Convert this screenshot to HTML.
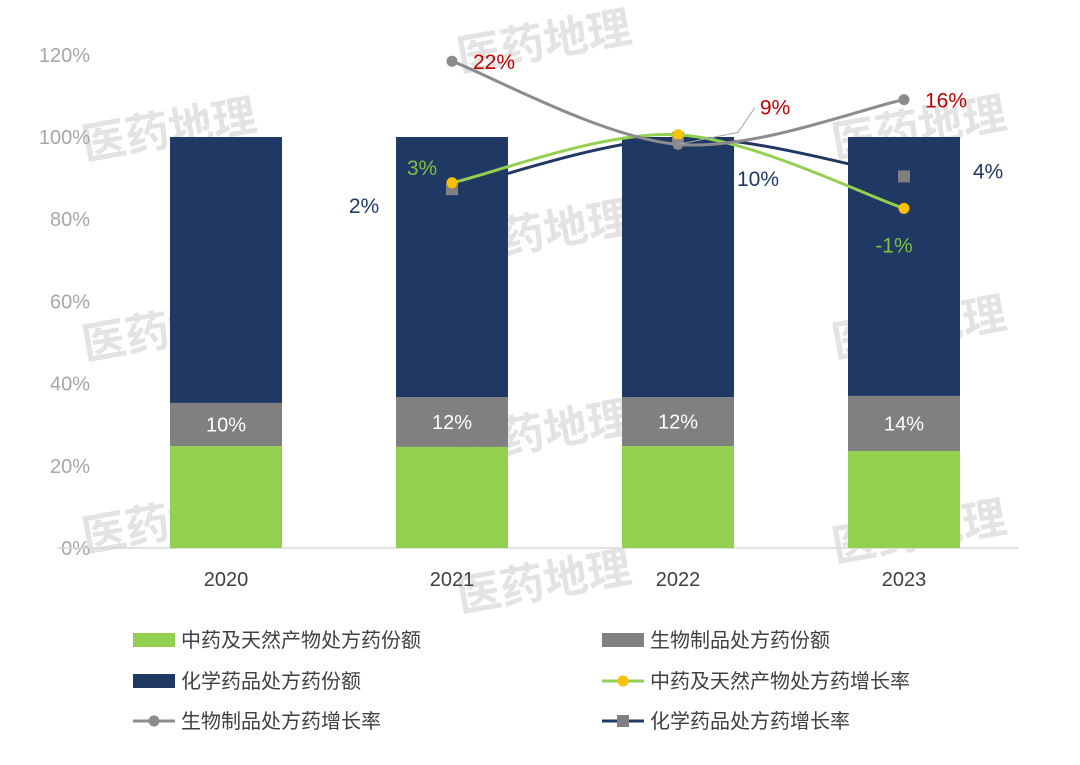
<!DOCTYPE html>
<html><head><meta charset="utf-8"><style>
body{margin:0;background:#fff;}
svg{display:block;font-family:"Liberation Sans","Noto Sans CJK SC",sans-serif;}
</style></head><body>
<svg id="chart" width="1080" height="765" viewBox="0 0 1080 765" xmlns="http://www.w3.org/2000/svg">
<g id="wm"></g>
<g id="grid"></g>
<g id="bars"></g>
<g id="lines"></g>
<g id="glabels"></g>
<g id="legend"></g>
</svg>
<script>
var categories=["2020","2021","2022","2023"];
var tcmShare=[24.8,24.6,24.8,23.6];
var bioShare=[10.5,12.1,11.9,13.4];
var bioLabels=["10%","12%","12%","14%"];
var yTicks=[0,20,40,60,80,100,120];
var tcmGrowth=[null,3,10.5,-1];
var tcmGrowthLabels=["","3%","","-1%"];
var bioGrowth=[null,22,9,16];
var bioGrowthLabels=["","22%","9%","16%"];
var chemGrowth=[null,2,10,4];
var chemGrowthLabels=["","2%","10%","4%"];

var NS="http://www.w3.org/2000/svg";
function mk(p,t,a){var e=document.createElementNS(NS,t);for(var k in a)e.setAttribute(k,a[k]);p.appendChild(e);return e;}
function yS(v){return 548-v*4.11;}
function y2(v){return 202-v*6.4;}
function xS(i){return 226+i*226;}
var BW=112;
var G={green:"#92D050",gray:"#808080",navy:"#203864",yellow:"#FFC000",lgray:"#8C8C8C",red:"#C00000"};

try{
var wm=document.getElementById('wm');
var wmp=[[85,160],[460,72],[460,262],[85,360],[835,158],[835,358],[460,462],[85,552],[835,562],[460,612]];
for(var w=0;w<wmp.length;w++){
 var px=wmp[w][0],py=wmp[w][1];
 var wt=mk(wm,'text',{x:px,y:py,'font-size':44,'font-weight':'bold',fill:'#e3e3e3',transform:'rotate(-10 '+px+' '+py+')'});
 
 
 wt.textContent="医药地理";
}
}catch(e){}

try{
var grid=document.getElementById('grid');
for(var k=0;k<yTicks.length;k++){
 var tt=mk(grid,'text',{x:90,y:yS(yTicks[k])+7,'text-anchor':'end','font-size':20,fill:'#A6A6A6'});
 
 
 tt.textContent=yTicks[k]+"%";
}
var ax=mk(grid,'line',{x1:57,x2:1018,y1:548,y2:548,stroke:'#D9D9D9','stroke-width':1.5});


}catch(e){}

try{
var bars=document.getElementById('bars');
for(var i=0;i<categories.length;i++){
 var x0=xS(i)-BW/2;
 var gv=tcmShare[i], bv=bioShare[i];
 var r1=mk(bars,'rect',{x:x0,y:yS(gv),width:BW,height:yS(0)-yS(gv),fill:G.green});
 
 
 var r2=mk(bars,'rect',{x:x0,y:yS(gv+bv),width:BW,height:yS(gv)-yS(gv+bv),fill:G.gray});
 
 
 var r3=mk(bars,'rect',{x:x0,y:yS(100),width:BW,height:yS(gv+bv)-yS(100),fill:G.navy});
 
 
 var bt=mk(bars,'text',{x:xS(i),y:(yS(gv)+yS(gv+bv))/2+7,'text-anchor':'middle','font-size':20,fill:'#fff'});
 
 
 bt.textContent=bioLabels[i];
 var xl=mk(bars,'text',{x:xS(i),y:586,'text-anchor':'middle','font-size':20,fill:'#404040'});
 
 
 xl.textContent=categories[i];
}
}catch(e){}

function smooth(pts){
 var d='M'+pts[0][0]+','+pts[0][1];
 for(var i=0;i<pts.length-1;i++){
  var p0=pts[i-1]||pts[i],p1=pts[i],p2=pts[i+1],p3=pts[i+2]||p2;
  var c1x=p1[0]+(p2[0]-p0[0])/6,c1y=p1[1]+(p2[1]-p0[1])/6;
  var c2x=p2[0]-(p3[0]-p1[0])/6,c2y=p2[1]-(p3[1]-p1[1])/6;
  d+=' C'+c1x+','+c1y+' '+c2x+','+c2y+' '+p2[0]+','+p2[1];
 }
 return d;
}
var linesG=document.getElementById('lines');
var labelsG=document.getElementById('glabels');
function series(vals,color,marker,mcolor,sname){
 var pts=[];
 for(var i=0;i<vals.length;i++){if(vals[i]!==null)pts.push([xS(i),y2(vals[i]),i]);}
 var pth=mk(linesG,'path',{d:smooth(pts),fill:'none',stroke:color,'stroke-width':3});
 
 
 for(var j=0;j<pts.length;j++){
  var q=pts[j];
  var mm;
  if(marker==='circle'){mm=mk(linesG,'circle',{cx:q[0],cy:q[1],r:5.5,fill:mcolor});}
  else{mm=mk(linesG,'rect',{x:q[0]-6,y:q[1]-6,width:12,height:12,fill:mcolor});}
  
  
 }
}
try{series(chemGrowth,G.navy,'square',G.gray,'chem-growth');}catch(e){}
try{series(tcmGrowth,G.green,'circle',G.yellow,'tcm-growth');}catch(e){}
try{series(bioGrowth,G.lgray,'circle',G.lgray,'bio-growth');}catch(e){}

function addLabel(vals,labs,idx,dx,dy,col,nm){
 var v=vals[idx];
 var s=labs[idx];
 var t=document.createElementNS(NS,'text');
 t.setAttribute('x',String(xS(idx)+dx));
 t.setAttribute('y',String(y2(v)+dy));
 t.setAttribute('text-anchor','middle');
 t.setAttribute('font-size','21');
 t.setAttribute('fill',col);
 
 
 t.textContent=s;
 labelsG.appendChild(t);
}
try{addLabel(chemGrowth,chemGrowthLabels,1,-88,24,G.navy,'chem-growth-label');}catch(e){}
try{addLabel(chemGrowth,chemGrowthLabels,2,80,48,G.navy,'chem-growth-label');}catch(e){}
try{addLabel(chemGrowth,chemGrowthLabels,3,84,2,G.navy,'chem-growth-label');}catch(e){}
try{addLabel(tcmGrowth,tcmGrowthLabels,1,-30,-8,'#7DC142','tcm-growth-label');}catch(e){}
try{addLabel(tcmGrowth,tcmGrowthLabels,3,-10,44,'#7DC142','tcm-growth-label');}catch(e){}
try{addLabel(bioGrowth,bioGrowthLabels,1,42,8,G.red,'bio-growth-label');}catch(e){}
try{addLabel(bioGrowth,bioGrowthLabels,2,97,-30,G.red,'bio-growth-label');}catch(e){}
try{addLabel(bioGrowth,bioGrowthLabels,3,42,8,G.red,'bio-growth-label');}catch(e){}
try{
var lx0=xS(2),ly0=y2(bioGrowth[2]);
var ld=mk(linesG,'polyline',{points:lx0+','+ly0+' 738,'+(ly0-12)+' 755,'+(ly0-37),fill:'none',stroke:'#A6A6A6','stroke-width':1});


}catch(e){}

try{
var leg=document.getElementById('legend');
var items=[
 ["box",G.green,"","中药及天然产物处方药份额",133,640,""],
 ["box",G.gray,"","生物制品处方药份额",602,640,""],
 ["box",G.navy,"","化学药品处方药份额",133,681,""],
 ["line",G.green,G.yellow,"中药及天然产物处方药增长率",602,681,"circle"],
 ["line",G.lgray,G.lgray,"生物制品处方药增长率",133,721,"circle"],
 ["line",G.navy,G.gray,"化学药品处方药增长率",602,721,"square"]];
for(var n=0;n<items.length;n++){
 var it=items[n];
 var lg=mk(leg,'g',{});
 
 
 var lx=it[4],ly=it[5];
 if(it[0]==='box'){mk(lg,'rect',{x:lx,y:ly-7,width:42,height:14,fill:it[1]});}
 else{
  mk(lg,'line',{x1:lx,x2:lx+42,y1:ly,y2:ly,stroke:it[1],'stroke-width':3});
  if(it[6]==='square'){mk(lg,'rect',{x:lx+15,y:ly-6,width:12,height:12,fill:it[2]});}
  else{mk(lg,'circle',{cx:lx+21,cy:ly,r:5.5,fill:it[2]});}
 }
 var lgt=mk(lg,'text',{x:lx+48,y:ly+7,'font-size':20,fill:'#404040'});
 lgt.textContent=it[3];
}
}catch(e){}
</script>
</body></html>
